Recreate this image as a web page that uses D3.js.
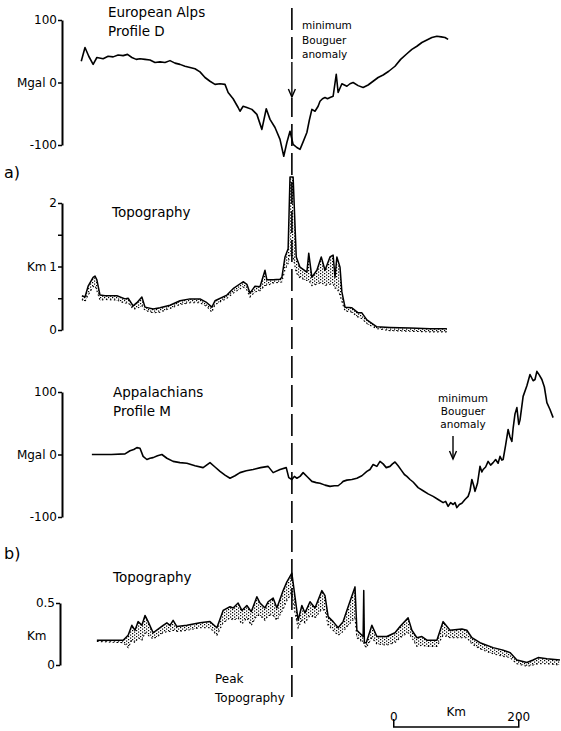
<!DOCTYPE html>
<html><head><meta charset="utf-8">
<script src="https://cdn.jsdelivr.net/npm/d3@7"></script>
<style>body{margin:0;background:#fff}svg{display:block}text{font-family:"DejaVu Sans",sans-serif;fill:#000}</style>
</head><body>
<script>
// Distances along profile (km)
const alpsGravDist = [2,8,14,21,27,37,45,53,61,69,76,83,90,96,104,112,120,128,136,144,152,160,168,176,184,192,200,208,216,224,232,237,245,253,256,261,267,275,283,291,298,304,312,320,326,331,336,341,347,352,357,363,367,371,376,381,384,388,392,396,400,405,410,413,419,423,427,432,437,445,453,461,469,477,485,494,504,513,523,531,539,547,555,563,571,578,584,589];
const alpsGrav = [34,56,42,29,40,38,42,41,44,43,45,40,37,38,37,36,32,33,32,35,31,29,26,24,22,17,8,2,-3,-2,-3,-16,-26,-40,-46,-38,-40,-43,-51,-75,-42,-59,-72,-91,-118,-96,-78,-99,-104,-107,-95,-80,-60,-43,-46,-38,-30,-26,-24,-26,-24,-22,13,-16,-2,-4,-6,-2,0,-5,-8,-4,2,8,12,18,26,37,46,53,58,64,68,72,74,73,72,69];

const alpsTopoDist = [3,8,13,21,24,27,32,40,59,72,77,85,91,99,104,117,128,144,160,176,192,203,211,216,235,245,261,267,272,280,288,296,299,309,320,323,328,333,336,341,346,352,363,366,371,379,386,392,400,405,408,411,416,419,424,435,445,451,459,475,496,528,560,587];
const alpsTopoMax = [0.54,0.52,0.69,0.83,0.85,0.79,0.55,0.54,0.54,0.49,0.50,0.38,0.43,0.52,0.36,0.33,0.35,0.39,0.46,0.49,0.49,0.43,0.36,0.46,0.55,0.65,0.76,0.72,0.58,0.69,0.68,0.94,0.79,0.79,0.80,0.83,1.15,1.28,2.41,2.41,1.15,0.99,0.91,1.21,0.83,0.94,1.15,0.94,1.15,1.18,0.83,1.15,0.99,0.60,0.36,0.35,0.27,0.27,0.16,0.05,0.04,0.03,0.02,0.02];
const alpsTopoMean = [0.48,0.45,0.55,0.68,0.70,0.62,0.47,0.48,0.47,0.42,0.43,0.33,0.34,0.38,0.31,0.27,0.28,0.34,0.40,0.43,0.43,0.37,0.28,0.40,0.50,0.58,0.68,0.63,0.52,0.60,0.62,0.70,0.70,0.74,0.75,0.76,0.95,1.05,1.20,1.15,0.90,0.82,0.78,0.78,0.70,0.72,0.75,0.70,0.72,0.72,0.66,0.66,0.55,0.45,0.30,0.28,0.20,0.18,0.10,0.02,-0.01,-0.02,-0.03,-0.03];

const appGravDist = [19,32,50,72,80,86,91,96,101,107,112,117,124,131,139,149,160,171,184,197,208,216,224,232,240,248,256,266,277,289,301,309,320,330,334,339,343,347,352,357,364,371,378,384,392,400,407,413,418,421,427,435,443,451,459,464,469,475,480,485,490,496,500,504,509,514,519,523,528,533,541,549,557,565,573,581,585,589,593,597,600,603,607,611,616,621,624,627,630,632,636,640,643,645,649,653,657,661,665,669,672,675,677,681,685,688,691,693,696,699,702,704,709,715,720,725,728,731,735,739,743,747,752,757,763,770];
const appGrav = [0,0,0,1,6,8,11,10,-3,-8,-6,-5,-2,0,-6,-11,-13,-14,-18,-21,-13,-20,-27,-33,-38,-34,-29,-26,-24,-21,-19,-29,-24,-21,-37,-40,-35,-38,-35,-29,-36,-43,-45,-46,-49,-51,-50,-50,-46,-43,-41,-40,-38,-34,-27,-24,-16,-19,-11,-15,-21,-19,-15,-12,-18,-25,-32,-35,-40,-44,-53,-58,-63,-67,-72,-77,-75,-83,-77,-80,-77,-85,-80,-78,-72,-67,-58,-40,-50,-59,-46,-19,-28,-24,-20,-11,-17,-13,-8,-14,-3,-9,-8,15,40,28,21,42,65,75,48,55,93,110,128,118,120,133,127,120,108,83,72,59];

const appTopoDist = [27,69,77,83,88,93,99,104,109,117,133,139,144,149,155,171,192,208,219,229,240,245,253,259,267,274,283,288,296,301,309,315,325,331,339,344,349,355,360,368,376,387,392,397,405,413,421,429,440,443,453,454,455,458,467,475,491,504,512,525,531,539,547,555,571,581,592,611,619,627,640,661,677,688,699,715,725,733,747,768];
const appTopoMax = [0.20,0.20,0.24,0.32,0.28,0.35,0.32,0.40,0.35,0.26,0.32,0.34,0.32,0.36,0.31,0.32,0.34,0.35,0.30,0.44,0.47,0.46,0.50,0.44,0.48,0.43,0.55,0.50,0.46,0.51,0.54,0.46,0.60,0.67,0.74,0.55,0.36,0.48,0.42,0.51,0.46,0.60,0.56,0.39,0.35,0.30,0.35,0.47,0.63,0.28,0.23,0.60,0.18,0.18,0.32,0.23,0.23,0.26,0.31,0.38,0.28,0.22,0.23,0.20,0.20,0.35,0.28,0.29,0.28,0.22,0.18,0.14,0.12,0.10,0.04,0.02,0.04,0.06,0.05,0.04];
const appTopoMean = [0.19,0.18,0.14,0.20,0.18,0.22,0.20,0.26,0.24,0.21,0.26,0.27,0.27,0.28,0.27,0.28,0.30,0.30,0.24,0.34,0.38,0.36,0.38,0.33,0.38,0.32,0.40,0.40,0.36,0.40,0.40,0.36,0.45,0.52,0.58,0.42,0.30,0.36,0.34,0.40,0.38,0.45,0.44,0.32,0.28,0.24,0.27,0.32,0.38,0.22,0.18,0.18,0.16,0.14,0.22,0.17,0.16,0.18,0.22,0.26,0.22,0.15,0.16,0.15,0.15,0.24,0.22,0.22,0.22,0.17,0.13,0.09,0.07,0.06,0.01,-0.01,0.00,0.01,0.01,0.00];

const gravTicks = [-100,0,100];
const alpsTopoTicks = [0,0.5,1,1.5,2];
const appTopoTicks = [0,0.5];
const peakDist = 339;
const scaleBarStart = 502;
const scaleBarLen = 200;

const W = 561, H = 731;
const svg = d3.select("body").append("svg").attr("width", W).attr("height", H);
const defs = svg.append("defs");
const pat = defs.append("pattern").attr("id","stip").attr("width",4).attr("height",3).attr("patternUnits","userSpaceOnUse");
pat.append("rect").attr("x",0).attr("y",0).attr("width",1.2).attr("height",1.2).attr("fill","#000");
pat.append("rect").attr("x",2).attr("y",1.5).attr("width",1.2).attr("height",1.2).attr("fill","#000");

const x = d3.scaleLinear().domain([0, 770]).range([80, 561.25]);

const yGA = d3.scaleLinear().domain([-100,100]).range([145,20]);
const yTA = d3.scaleLinear().domain([0,2]).range([330,203]);
const yGB = d3.scaleLinear().domain([-100,100]).range([517,392]);
const yTB = d3.scaleLinear().domain([0,0.5]).range([665,603]);

function axis(y, ax, ticks, fmt){
  const g = svg.append("g").attr("transform",`translate(${ax},0)`)
    .call(d3.axisLeft(y).tickValues(ticks).tickSize(4).tickSizeOuter(0).tickPadding(1).tickFormat(fmt));
  g.select(".domain").attr("stroke","#000").attr("stroke-width",2);
  g.selectAll(".tick line").attr("stroke","#000").attr("stroke-width",1.5);
  g.selectAll(".tick text").attr("font-size",12).attr("font-family","DejaVu Sans").attr("fill","#000");
  return g;
}
axis(yGA, 62, gravTicks, d => d===0 ? "Mgal 0" : (d===100?"100":"-100"));
axis(yTA, 62, alpsTopoTicks, d => (d%1===0) ? String(d) : "");
axis(yGB, 62, gravTicks, d => d===0 ? "Mgal 0" : (d===100?"100":"-100"));
axis(yTB, 60, appTopoTicks, d => d===0 ? "0" : "0.5");

function line(dist, vals, y){
  return d3.line().x((d,i)=>x(dist[i])).y(d=>y(d))(vals);
}
function topo(dist, maxV, meanV, y){
  const idx = d3.range(dist.length);
  svg.append("path").attr("d", d3.area().x(i=>x(dist[i])).y0(i=>y(meanV[i])).y1(i=>y(maxV[i]))(idx))
    .attr("fill","url(#stip)");
  svg.append("path").attr("d", line(dist, meanV, y)).attr("fill","none").attr("stroke","#000")
    .attr("stroke-width",1.1).attr("stroke-dasharray","1.5,2.5");
  svg.append("path").attr("d", line(dist, maxV, y)).attr("fill","none").attr("stroke","#000")
    .attr("stroke-width",1.5).attr("stroke-linejoin","round");
}

// dashed peak line
svg.append("line").attr("x1",x(peakDist)).attr("x2",x(peakDist)).attr("y1",8).attr("y2",703)
  .attr("stroke","#000").attr("stroke-width",1.6).attr("stroke-dasharray","22,7");

svg.append("path").attr("d", line(alpsGravDist, alpsGrav, yGA)).attr("fill","none").attr("stroke","#000").attr("stroke-width",1.6).attr("stroke-linejoin","round");
topo(alpsTopoDist, alpsTopoMax, alpsTopoMean, yTA);
svg.append("path").attr("d", line(appGravDist, appGrav, yGB)).attr("fill","none").attr("stroke","#000").attr("stroke-width",1.6).attr("stroke-linejoin","round");
topo(appTopoDist, appTopoMax, appTopoMean, yTB);

function txt(s, px, py, size, anchor){
  svg.append("text").attr("x",px).attr("y",py).attr("font-size",size).attr("text-anchor",anchor||"start").text(s);
}
function arrow(px, y1, y2){
  svg.append("line").attr("x1",px).attr("x2",px).attr("y1",y1).attr("y2",y2).attr("stroke","#000").attr("stroke-width",1.4);
  svg.append("path").attr("d",`M${px-3.5},${y2-8}L${px},${y2}L${px+3.5},${y2-8}`).attr("fill","none").attr("stroke","#000").attr("stroke-width",1.4);
}

txt("European  Alps", 108, 17, 13.5);
txt("Profile D", 108, 36, 13.5);
txt("minimum", 302, 29, 10.5);
txt("Bouguer", 302, 44, 10.5);
txt("anomaly", 302, 58, 10.5);
svg.append("rect").attr("x",x(peakDist)-2).attr("y",60).attr("width",4).attr("height",38).attr("fill","#fff");
arrow(x(peakDist), 62, 97);
txt("a)", 4, 178, 16);

txt("Topography", 112, 217, 13.5);
txt("Km", 27, 271, 12);

txt("Appalachians", 113, 397, 13.5);
txt("Profile M", 113, 416, 13.5);
txt("minimum", 463, 402, 10.5, "middle");
txt("Bouguer", 463, 415, 10.5, "middle");
txt("anomaly", 463, 428, 10.5, "middle");
arrow(453, 436, 459);
txt("b)", 4, 559, 16);

txt("Topography", 113, 582, 13.5);
txt("Km", 27, 640, 12);
txt("Peak", 215, 683, 12);
txt("Topography", 215, 702, 12);

// scale bar
const sb0 = x(scaleBarStart), sb1 = x(scaleBarStart + scaleBarLen);
svg.append("path").attr("d",`M${sb0},${719}V${727}H${sb1}V${719}`).attr("fill","none").attr("stroke","#000").attr("stroke-width",1.5);
txt("0", sb0, 721, 12, "middle");
txt("Km", (sb0+sb1)/2, 716, 12, "middle");
txt("200", sb1, 721, 12, "middle");
</script>
</body></html>
